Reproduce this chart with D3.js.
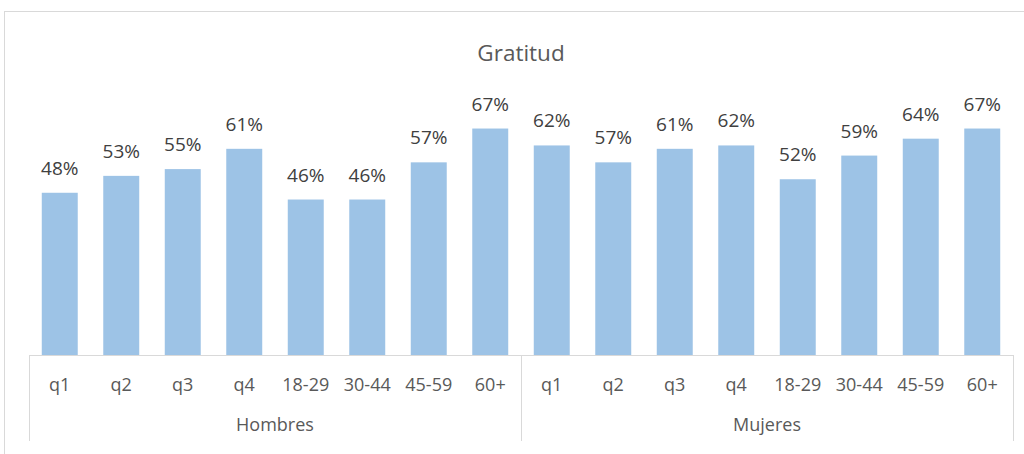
<!DOCTYPE html>
<html>
<head>
<meta charset="utf-8">
<script src="https://cdn.jsdelivr.net/npm/d3@7"></script>
<style>
  body { margin: 0; background: #fff; }
  svg { display: block; font-family: "Open Sans", "Noto Sans", sans-serif; }
</style>
</head>
<body>
<svg id="chart" width="1024" height="454"></svg>
<script>
var title = 'Gratitud';
var groups = ['Hombres', 'Mujeres'];
var subcats = ['q1', 'q2', 'q3', 'q4', '18-29', '30-44', '45-59', '60+'];
var hombres = [0.48, 0.53, 0.55, 0.61, 0.46, 0.46, 0.57, 0.67];
var mujeres = [0.62, 0.57, 0.61, 0.62, 0.52, 0.59, 0.64, 0.67];

var seriesByGroup = { Hombres: hombres, Mujeres: mujeres };
var rows = [];
groups.forEach(function(g) {
  subcats.forEach(function(c, i) {
    rows.push({ group: g, cat: c, key: g + '|' + c, value: seriesByGroup[g][i] });
  });
});

var svg = d3.select('#chart');
var axisY = 355;
var tickBottom = 441;

// outer chart border (right and bottom edges fall outside the picture)
svg.append('rect').attr('x', 4.5).attr('y', 11.5)
  .attr('width', 1030).attr('height', 460)
  .attr('fill', 'none').attr('stroke', '#d9d9d9');

var pad = 0.415;
var x = d3.scaleBand()
  .domain(rows.map(function(d) { return d.key; }))
  .range([29, 1013])
  .paddingInner(pad)
  .paddingOuter(pad / 2);

var y = d3.scaleLinear().domain([0, 0.7]).range([axisY, axisY - 0.7 * 338]);

var half = (x.step() - x.bandwidth()) / 2;

svg.append('text')
  .attr('x', (x.range()[0] + x.range()[1]) / 2)
  .attr('y', 61)
  .attr('text-anchor', 'middle')
  .attr('font-size', 22.5)
  .attr('fill', '#595959')
  .text(title);

svg.selectAll('rect.bar').data(rows).enter().append('rect')
  .attr('class', 'bar')
  .attr('x', function(d) { return x(d.key); })
  .attr('y', function(d) { return y(d.value); })
  .attr('width', x.bandwidth())
  .attr('height', function(d) { return axisY - y(d.value); })
  .attr('fill', '#9dc3e6');

svg.selectAll('text.lbl').data(rows).enter().append('text')
  .attr('class', 'lbl')
  .attr('x', function(d) { return x(d.key) + x.bandwidth() / 2; })
  .attr('y', function(d) { return y(d.value) - 18; })
  .attr('text-anchor', 'middle')
  .attr('font-size', 19)
  .attr('fill', '#404040')
  .text(function(d) { return d3.format('.0%')(d.value); });

// category axis
svg.append('line')
  .attr('x1', x.range()[0]).attr('x2', x.range()[1])
  .attr('y1', axisY + 0.5).attr('y2', axisY + 0.5)
  .attr('stroke', '#d9d9d9');

var bounds = groups.map(function(g) { return x(g + '|' + subcats[0]) - half; });
bounds.push(x.range()[1]);
svg.selectAll('line.sep').data(bounds).enter().append('line')
  .attr('class', 'sep')
  .attr('x1', function(d) { return Math.round(d) + 0.5; })
  .attr('x2', function(d) { return Math.round(d) + 0.5; })
  .attr('y1', axisY).attr('y2', tickBottom)
  .attr('stroke', '#d9d9d9');

svg.selectAll('text.cat').data(rows).enter().append('text')
  .attr('class', 'cat')
  .attr('x', function(d) { return x(d.key) + x.bandwidth() / 2; })
  .attr('y', 391)
  .attr('text-anchor', 'middle')
  .attr('font-size', 18)
  .attr('fill', '#595959')
  .text(function(d) { return d.cat; });

svg.selectAll('text.grp').data(groups).enter().append('text')
  .attr('class', 'grp')
  .attr('x', function(g, i) { return (bounds[i] + bounds[i + 1]) / 2; })
  .attr('y', 431)
  .attr('text-anchor', 'middle')
  .attr('font-size', 18)
  .attr('fill', '#595959')
  .text(function(g) { return g; });
</script>
</body>
</html>
